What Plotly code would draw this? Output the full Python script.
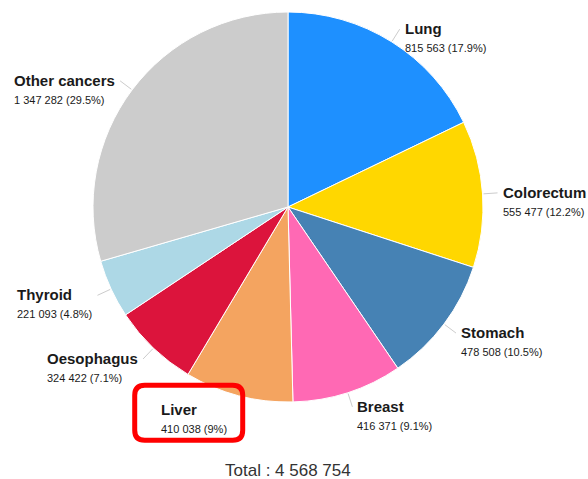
import math
import plotly.graph_objects as go

# ---- data ----
categories = ["Lung", "Colorectum", "Stomach", "Breast", "Liver",
              "Oesophagus", "Thyroid", "Other cancers"]
values = [815563, 555477, 478508, 416371, 410038, 324422, 221093, 1347282]
colors = ["#1E90FF", "#FFD700", "#4682B4", "#FF69B4", "#F4A460",
          "#DC143C", "#ADD8E6", "#CCCCCC"]
highlight = "Liver"

W, H = 588, 479
CX, CY, R = 288, 207, 195

total = sum(values)


def fmt_int(n):
    return f"{n:,}".replace(",", " ")


def fmt_pct(p):
    s = f"{p:.1f}"
    if s.endswith(".0"):
        s = s[:-2]
    return s + "%"


fig = go.Figure()
# empty cartesian trace so that a pixel-space axis exists for shapes/annotations
fig.add_trace(go.Scatter(x=[], y=[], showlegend=False, hoverinfo="skip"))

fig.add_trace(go.Pie(
    labels=categories, values=values, sort=False, direction="clockwise",
    rotation=0, textinfo="none", showlegend=False,
    marker=dict(colors=colors, line=dict(color="white", width=1)),
    domain=dict(x=[(CX - R) / W, (CX + R) / W],
                y=[1 - (CY + R) / H, 1 - (CY - R) / H]),
))

shapes = []
annotations = []
cum = 0.0
for cat, val in zip(categories, values):
    frac = val / total
    mid = (cum + frac / 2) * 2 * math.pi
    cum += frac
    s, c = math.sin(mid), math.cos(mid)
    x0, y0 = CX + (R + 1) * s, CY - (R + 1) * c
    x1, y1 = CX + (R + 15) * s, CY - (R + 15) * c
    if cat != highlight:
        shapes.append(dict(type="line", xref="x", yref="y", x0=x0, y0=y0, x1=x1, y1=y1,
                           line=dict(color="#cccccc", width=1)))
    right = s >= 0
    tx = x1 + 3 if right else x1 - 3
    if cat == highlight:
        tx -= 3
    text = (f"<span style='font-size:15px'><b>{cat}</b></span><br>"
            f"<span style='font-size:11px'>{fmt_int(val)} ({fmt_pct(frac * 100)})</span>")
    annotations.append(dict(
        x=tx, y=y1 + 8, xref="x", yref="y", text=text, showarrow=False,
        xanchor="left" if right else "right", yanchor="middle", align="left",
        font=dict(family="Liberation Sans, Arial, sans-serif", size=14, color="#1a1a1a"),
    ))
    if cat == highlight:
        left, rgt = tx - 94, tx + 14
        top, bot = y1 - 25, y1 + 30
        r = 10
        path = (f"M {left + r},{top} L {rgt - r},{top} Q {rgt},{top} {rgt},{top + r} "
                f"L {rgt},{bot - r} Q {rgt},{bot} {rgt - r},{bot} "
                f"L {left + r},{bot} Q {left},{bot} {left},{bot - r} "
                f"L {left},{top + r} Q {left},{top} {left + r},{top} Z")
        shapes.append(dict(type="path", xref="x", yref="y", path=path,
                           line=dict(color="#FF0000", width=5), layer="above"))

annotations.append(dict(
    x=CX, y=470, xref="x", yref="y", showarrow=False,
    text=f"Total : {fmt_int(total)}", xanchor="center", yanchor="middle",
    font=dict(family="Liberation Sans, Arial, sans-serif", size=17, color="#333333"),
))

fig.update_layout(
    width=W, height=H, margin=dict(l=0, r=0, t=0, b=0),
    paper_bgcolor="white", plot_bgcolor="rgba(0,0,0,0)",
    xaxis=dict(range=[0, W], visible=False, fixedrange=True),
    yaxis=dict(range=[H, 0], visible=False, fixedrange=True),
    shapes=shapes, annotations=annotations,
)

fig.write_html(
    "out.html",
    config={"displayModeBar": False},
    post_script="document.body.style.margin='0px';document.body.style.overflow='hidden';",
)
